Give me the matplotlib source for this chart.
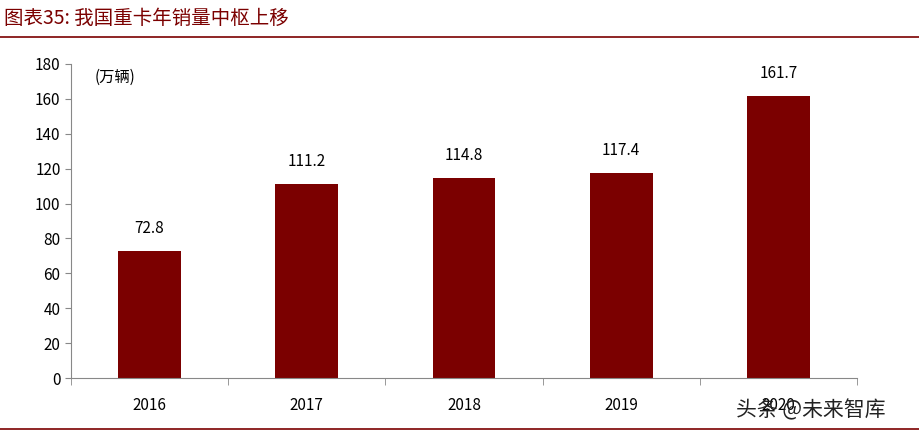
import matplotlib.pyplot as plt
import numpy as np

plt.rcParams['font.family'] = ['Noto Sans CJK SC', 'DejaVu Sans']

years = ['2016', '2017', '2018', '2019', '2020']
sales = [72.8, 111.2, 114.8, 117.4, 161.7]

red = '#7b0000'
fig = plt.figure(figsize=(9.2, 4.36), dpi=100)
ax = fig.add_axes([71 / 920, 1 - 378 / 436, 786 / 920, 314 / 436])

x = np.arange(len(years))
ax.bar(x, sales, width=0.4, color=red)
for xi, v in zip(x, sales):
    ax.text(xi, v + 8, f'{v:.1f}', ha='center', va='bottom', fontsize=11)

ax.set_xlim(-0.5, len(years) - 0.5)
ax.set_ylim(0, 180)
ax.set_yticks(range(0, 181, 20))
ax.set_xticks(x)
ax.set_xticklabels(years, fontsize=11)
ax.set_xticks(np.arange(-0.5, len(years), 1), minor=True)
ax.tick_params(axis='x', which='major', length=0, pad=14)
ax.tick_params(axis='x', which='minor', length=5, color='#888888')
ax.tick_params(axis='y', labelsize=11, length=4, color='#888888')
for s in ['top', 'right']:
    ax.spines[s].set_visible(False)
ax.spines['left'].set_color('#888888')
ax.spines['bottom'].set_color('#888888')
ax.text(0.03, 0.985, '(万辆)', transform=ax.transAxes, fontsize=11, va='top')

fig.text(0.004, 1 - 18 / 436, '图表35: 我国重卡年销量中枢上移', color=red,
         fontsize=14, style='italic', va='center', ha='left')
fig.add_artist(plt.Line2D([0, 1], [1 - 37 / 436] * 2, color=red, lw=1.2))
fig.add_artist(plt.Line2D([0, 1], [1 - 429 / 436] * 2, color=red, lw=1.2))
fig.text(0.8, 1 - 410 / 436, '头条 @未来智库', fontsize=15, color='#222222',
         va='center', ha='left')

fig.savefig('out.png', dpi=100)
